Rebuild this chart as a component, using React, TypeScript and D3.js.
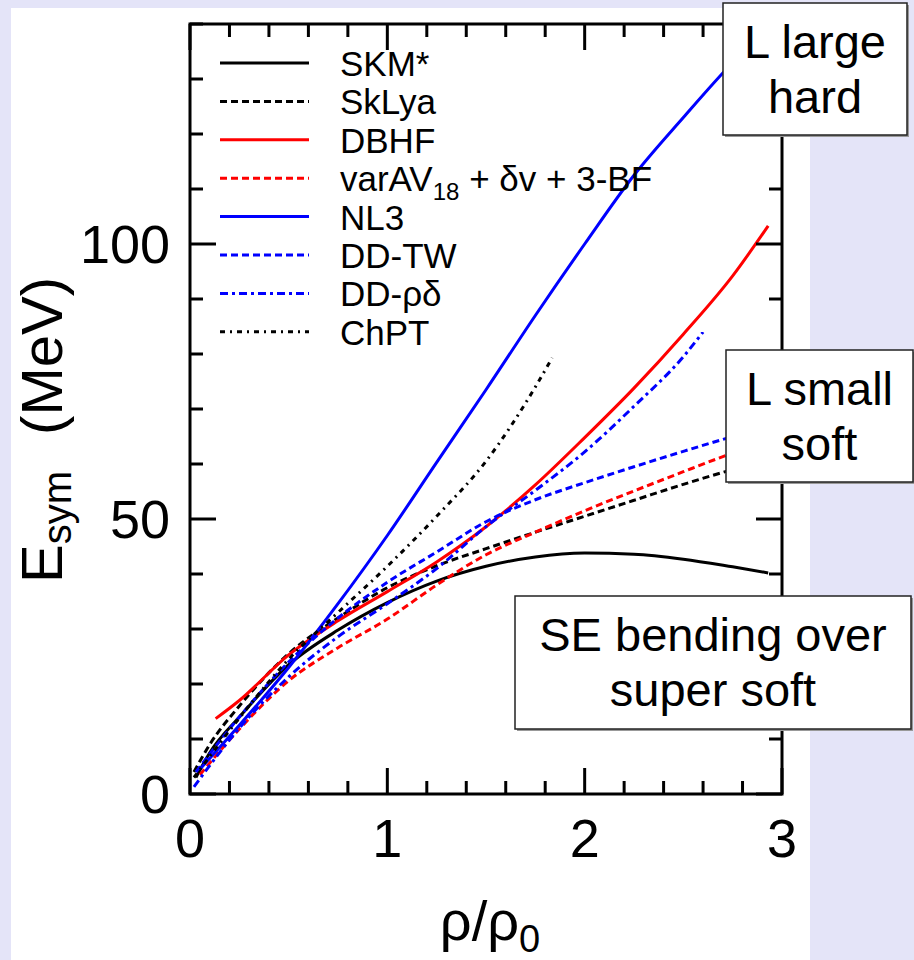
import React from 'react';
import * as d3 from 'd3';

// symmetry energy vs density
const skm = [[0.03, 3], [0.1, 7.5], [0.25, 14], [0.5, 23.5], [0.75, 29.8], [1.0, 34.8], [1.25, 38.7], [1.5, 41.4], [1.75, 43.1], [2.0, 43.8], [2.25, 43.6], [2.5, 42.7], [2.75, 41.3], [2.93, 40.2]];
const sklya = [[0.02, 4], [0.1, 9], [0.25, 16], [0.5, 25.5], [0.75, 32], [1.0, 37.5], [1.25, 41.5], [1.5, 44.6], [1.75, 47.6], [2.0, 50.5], [2.25, 53.4], [2.5, 56.3], [2.75, 59], [2.95, 61]];
const dbhf = [[0.13, 13.7], [0.25, 17], [0.5, 25.3], [0.75, 31.5], [1.0, 36.8], [1.25, 42.2], [1.5, 48.6], [1.75, 56.2], [2.0, 64.8], [2.25, 73.8], [2.5, 83.6], [2.75, 94.2], [2.93, 103.3]];
const varAV = [[0.05, 3.5], [0.25, 11.8], [0.5, 20.6], [0.75, 26.6], [1.0, 31.8], [1.25, 38], [1.5, 43.5], [1.75, 47.6], [2.0, 51.5], [2.25, 55.1], [2.5, 58.6], [2.75, 62], [2.95, 64.5]];
const nl3 = [[0.05, 4.5], [0.25, 12.5], [0.5, 23], [0.75, 34.6], [1.0, 47], [1.25, 60.3], [1.5, 73.5], [1.75, 87], [2.0, 100], [2.25, 112.5], [2.5, 123], [2.75, 133], [2.95, 140]];
const ddtw = [[0.03, 4], [0.25, 14], [0.5, 24], [0.75, 32], [1.0, 38.5], [1.25, 44], [1.5, 49.5], [1.75, 53.5], [2.0, 56.6], [2.25, 59.5], [2.5, 62.3], [2.75, 65], [2.95, 67]];
const ddrd = [[0.02, 1.3], [0.25, 12], [0.5, 21.3], [0.75, 28.6], [1.0, 34.6], [1.25, 41], [1.5, 48.6], [1.75, 55.2], [2.0, 62.2], [2.25, 70.5], [2.5, 79.5], [2.6, 84]];
const chpt = [[0.02, 3], [0.25, 13.8], [0.5, 24.5], [0.75, 33], [1.0, 41.4], [1.25, 50.5], [1.5, 60.5], [1.75, 74], [1.835, 79.3]];

const series = [
  { key: 'skm', data: skm, color: '#000', dash: null },
  { key: 'sklya', data: sklya, color: '#000', dash: '7,4' },
  { key: 'dbhf', data: dbhf, color: '#f00', dash: null },
  { key: 'var', data: varAV, color: '#f00', dash: '7,4' },
  { key: 'nl3', data: nl3, color: '#00f', dash: null },
  { key: 'ddtw', data: ddtw, color: '#00f', dash: '7,4' },
  { key: 'ddrd', data: ddrd, color: '#00f', dash: '8,4,3,4' },
  { key: 'chpt', data: chpt, color: '#000', dash: '5,5,2,5' },
];

const W = 914;
const H = 960;
const font = 'Liberation Sans, Arial, Helvetica, sans-serif';

export default function App() {
  const x = d3.scaleLinear().domain([0, 3]).range([190, 782]);
  const y = d3.scaleLinear().domain([0, 140]).range([794, 24]);
  const line = d3.line<number[]>().x(d => x(d[0])).y(d => y(d[1])).curve(d3.curveMonotoneX);

  const xMinor = d3.range(0, 3.001, 0.2).filter(v => Math.abs(v - Math.round(v)) > 0.01);
  const xMajor = [0, 1, 2, 3];
  const yMinor = d3.range(0, 141, 10).filter(v => v % 50 !== 0);
  const yMajor = [0, 50, 100];

  const legendLabels = [
    <tspan>SKM*</tspan>,
    <tspan>SkLya</tspan>,
    <tspan>DBHF</tspan>,
    <><tspan>varAV</tspan><tspan fontSize={24} dy={9}>18</tspan><tspan dy={-9}> + δv + 3-BF</tspan></>,
    <tspan>NL3</tspan>,
    <tspan>DD-TW</tspan>,
    <tspan>DD-ρδ</tspan>,
    <tspan>ChPT</tspan>,
  ];

  const boxes = [
    { x0: 723, y0: 3, x1: 907, y1: 135, lines: ['L large', 'hard'] },
    { x0: 726, y0: 350, x1: 913, y1: 482, lines: ['L small', 'soft'] },
    { x0: 515, y0: 596, x1: 911, y1: 729, lines: ['SE bending over', 'super soft'] },
  ];

  return (
    <svg width={W} height={H} style={{ position: 'absolute', left: 0, top: 0 }} fontFamily={font}>
      <rect x={0} y={0} width={W} height={H} fill="#e4e4f8" />
      <rect x={11} y={8} width={799} height={H - 8} fill="#fff" />

      {/* curves */}
      {series.map(s => (
        <path key={s.key} d={line(s.data) || ''} fill="none" stroke={s.color} strokeWidth={3}
          strokeDasharray={s.dash || undefined} />
      ))}

      {/* frame and ticks */}
      <rect x={190} y={24} width={592} height={770} fill="none" stroke="#000" strokeWidth={3} />
      {xMinor.map(v => (
        <g key={'xm' + v} stroke="#000" strokeWidth={3}>
          <line x1={x(v)} x2={x(v)} y1={794} y2={781} />
          <line x1={x(v)} x2={x(v)} y1={24} y2={37} />
        </g>
      ))}
      {xMajor.map(v => (
        <g key={'xM' + v} stroke="#000" strokeWidth={3}>
          <line x1={x(v)} x2={x(v)} y1={794} y2={768} />
          <line x1={x(v)} x2={x(v)} y1={24} y2={50} />
        </g>
      ))}
      {yMinor.map(v => (
        <g key={'ym' + v} stroke="#000" strokeWidth={3}>
          <line x1={190} x2={203} y1={y(v)} y2={y(v)} />
          <line x1={782} x2={769} y1={y(v)} y2={y(v)} />
        </g>
      ))}
      {yMajor.map(v => (
        <g key={'yM' + v} stroke="#000" strokeWidth={3}>
          <line x1={190} x2={216} y1={y(v)} y2={y(v)} />
          <line x1={782} x2={756} y1={y(v)} y2={y(v)} />
        </g>
      ))}

      {/* tick labels */}
      {xMajor.map(v => (
        <text key={'xl' + v} x={x(v)} y={857} fontSize={54} textAnchor="middle">{v}</text>
      ))}
      {yMajor.map(v => (
        <text key={'yl' + v} x={170} y={y(v) + 19} fontSize={54} textAnchor="end">{v}</text>
      ))}

      {/* axis titles */}
      <text x={490} y={940} fontSize={56} textAnchor="middle">
        ρ/ρ<tspan fontSize={38} dy={12}>0</tspan>
      </text>
      <text transform="translate(62,430) rotate(-90)" fontSize={58} textAnchor="middle">
        E<tspan fontSize={40} dy={9}>sym</tspan><tspan dy={-9} dx={36}>(MeV)</tspan>
      </text>

      {/* legend */}
      {series.map((s, i) => {
        const ly = 63 + i * 38.4;
        return (
          <g key={'lg' + s.key}>
            <line x1={220} x2={309} y1={ly} y2={ly} stroke={s.color} strokeWidth={3}
              strokeDasharray={s.dash || undefined} />
            <text x={340} y={ly + 13} fontSize={35}>{legendLabels[i]}</text>
          </g>
        );
      })}

      {/* annotation boxes */}
      {boxes.map((b, i) => (
        <g key={'box' + i}>
          <rect x={b.x0 + 2} y={b.y0 + 2} width={b.x1 - b.x0} height={b.y1 - b.y0} fill="#999" />
          <rect x={b.x0} y={b.y0} width={b.x1 - b.x0} height={b.y1 - b.y0} fill="#fff" stroke="#222" strokeWidth={1.5} />
          {b.lines.map((t, j) => (
            <text key={j} x={(b.x0 + b.x1) / 2} y={b.y0 + 55 + j * 55} fontSize={47} textAnchor="middle">{t}</text>
          ))}
        </g>
      ))}
    </svg>
  );
}
